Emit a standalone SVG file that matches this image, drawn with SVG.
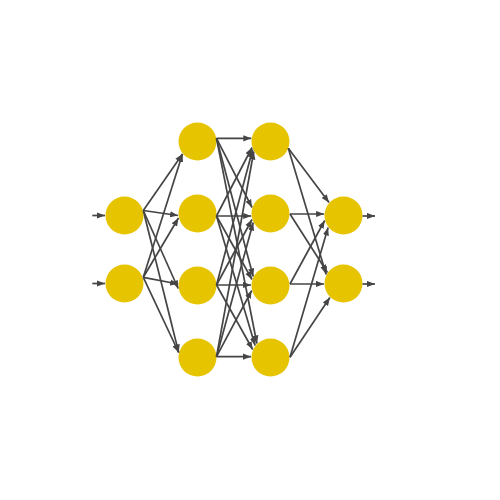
<svg xmlns="http://www.w3.org/2000/svg" width="500" height="500" viewBox="0 0 500 500">
<style>
.node{fill:#E6C400;stroke:none}
.edge{stroke:#454545;stroke-width:1.7;fill:none;marker-end:url(#ah)}
</style>
<defs>
<marker id="ah" markerUnits="userSpaceOnUse" markerWidth="9" markerHeight="7" refX="8" refY="3.5" orient="auto">
<path d="M0,0.4 L8,3.5 L0,6.6 Z" fill="#454545"/>
</marker>
</defs>
<rect width="500" height="500" fill="#ffffff"/>
<g id="nodes">
<g id="in1"><circle class="node" cx="124.5" cy="215.5" r="19"/></g>
<g id="in2"><circle class="node" cx="124.5" cy="283.5" r="19"/></g>
<g id="h1a"><circle class="node" cx="197.5" cy="141.5" r="19"/></g>
<g id="h1b"><circle class="node" cx="197.5" cy="213.5" r="19"/></g>
<g id="h1c"><circle class="node" cx="197.5" cy="285.5" r="19"/></g>
<g id="h1d"><circle class="node" cx="197.5" cy="357.5" r="19"/></g>
<g id="h2a"><circle class="node" cx="270.5" cy="141.5" r="19"/></g>
<g id="h2b"><circle class="node" cx="270.5" cy="213.5" r="19"/></g>
<g id="h2c"><circle class="node" cx="270.5" cy="285.5" r="19"/></g>
<g id="h2d"><circle class="node" cx="270.5" cy="357.5" r="19"/></g>
<g id="out1"><circle class="node" cx="343.5" cy="215.5" r="19"/></g>
<g id="out2"><circle class="node" cx="343.5" cy="283.5" r="19"/></g>
</g>
<g id="connectors">
<line class="edge" x1="92.3" y1="215.5" x2="105" y2="215.5"/>
<line class="edge" x1="92.3" y1="283.5" x2="105" y2="283.5"/>
<line class="edge" x1="362.5" y1="216" x2="375" y2="216"/>
<line class="edge" x1="362.5" y1="284" x2="375" y2="284"/>

<line class="edge" x1="143.3" y1="210.5" x2="182.5" y2="154"/>
<line class="edge" x1="143.3" y1="277.3" x2="182.5" y2="154"/>
<line class="edge" x1="143.3" y1="210.5" x2="178.1" y2="215.5"/>
<line class="edge" x1="143.3" y1="277.3" x2="178.5" y2="218"/>
<line class="edge" x1="143.3" y1="210.5" x2="178.2" y2="288.5"/>
<line class="edge" x1="143.3" y1="277.3" x2="178.1" y2="284"/>
<line class="edge" x1="143.3" y1="210.5" x2="178.7" y2="352.5"/>
<line class="edge" x1="143.3" y1="277.3" x2="178.7" y2="352.5"/>

<line class="edge" x1="216.5" y1="138.3" x2="251.3" y2="138.3"/>
<line class="edge" x1="216.5" y1="216" x2="252" y2="147.5"/>
<line class="edge" x1="216.5" y1="285" x2="252.7" y2="149.5"/>
<line class="edge" x1="216.5" y1="356.7" x2="253.8" y2="151.5"/>

<line class="edge" x1="216.5" y1="138.3" x2="252" y2="207.5"/>
<line class="edge" x1="216.5" y1="216" x2="251.2" y2="216"/>
<line class="edge" x1="216.5" y1="285" x2="252" y2="219.5"/>
<line class="edge" x1="216.5" y1="356.7" x2="253.2" y2="222.5"/>

<line class="edge" x1="216.5" y1="138.3" x2="253.2" y2="276.5"/>
<line class="edge" x1="216.5" y1="216" x2="252" y2="279.5"/>
<line class="edge" x1="216.5" y1="285" x2="251" y2="285"/>
<line class="edge" x1="216.5" y1="356.7" x2="251.7" y2="290.5"/>

<line class="edge" x1="216.5" y1="138.3" x2="256.9" y2="343.5"/>
<line class="edge" x1="216.5" y1="216" x2="255.1" y2="345.5"/>
<line class="edge" x1="216.5" y1="285" x2="252.7" y2="349.5"/>
<line class="edge" x1="216.5" y1="356.7" x2="251" y2="356.7"/>

<line class="edge" x1="288.3" y1="148.3" x2="329" y2="202.5"/>
<line class="edge" x1="290" y1="214" x2="324.1" y2="214"/>
<line class="edge" x1="290" y1="284" x2="324.7" y2="220.5"/>
<line class="edge" x1="290" y1="357.3" x2="328.1" y2="227.5"/>

<line class="edge" x1="288.3" y1="148.3" x2="326.2" y2="274.5"/>
<line class="edge" x1="290" y1="214" x2="327.4" y2="272.5"/>
<line class="edge" x1="290" y1="284" x2="324" y2="284"/>
<line class="edge" x1="290" y1="357.3" x2="329.9" y2="297.5"/>
</g>
</svg>
